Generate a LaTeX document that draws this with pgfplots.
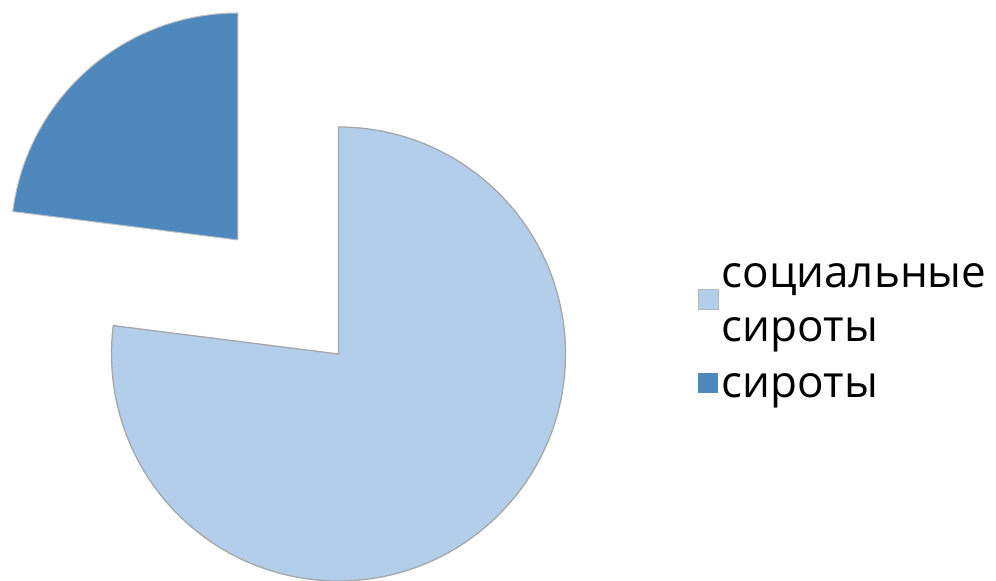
\documentclass[border=0pt]{standalone}
\usepackage{fontspec}
\setmainfont{Open Sans}
\usepackage{pgfplots}
\usepackage{pgfplotstable}
\usetikzlibrary{calc}
\pgfplotsset{compat=1.18}

\definecolor{lightblue}{RGB}{179,206,234}
\definecolor{darkblue}{RGB}{79,136,188}
\definecolor{edgegray}{RGB}{165,165,165}

% pie shares (percent)
\pgfplotstableread{
share
77
23
}\piedata

\begin{document}
\begin{tikzpicture}
\pgfplotstablegetelem{0}{share}\of\piedata \let\valA\pgfplotsretval
\pgfplotstablegetelem{1}{share}\of\piedata \let\valB\pgfplotsretval
\pgfmathsetmacro{\angA}{\valA/(\valA+\valB)*360}
\pgfmathsetmacro{\angB}{\valB/(\valA+\valB)*360}
\pgfmathsetmacro{\midB}{90+\angB/2}
\def\rad{90.8pt}
\begin{axis}[
    width=398.4pt, height=232.4pt,
    scale only axis,
    xmin=0, xmax=996, ymin=0, ymax=581,
    hide axis,
    clip=false,
]
\path[use as bounding box] (axis cs:0,0) rectangle (axis cs:996,581);

% big slice
\filldraw[fill=lightblue, draw=edgegray, line width=0.5pt]
    (axis cs:338.5,227) -- ++(90:\rad)
    arc[start angle=90, end angle=90-\angA, radius=\rad] -- cycle;

% exploded small slice
\filldraw[fill=darkblue, draw=edgegray!70, line width=0.4pt]
    ($(axis cs:338.5,227)+(\midB:60.8pt)$) -- ++(90:\rad)
    arc[start angle=90, end angle=90+\angB, radius=\rad] -- cycle;

% legend
\fill[lightblue, draw=edgegray!80, line width=0.3pt] (axis cs:698,272) rectangle (axis cs:718,292);
\fill[darkblue] (axis cs:698,188) rectangle (axis cs:718,208);
\tikzset{legtext/.style={anchor=base west, inner sep=0pt, font=\fontsize{17.6}{20}\selectfont}}
\node[legtext] at (axis cs:721,293) {социальные};
\node[legtext] at (axis cs:721,239) {сироты};
\node[legtext] at (axis cs:721,183) {сироты};
\end{axis}
\end{tikzpicture}
\end{document}
